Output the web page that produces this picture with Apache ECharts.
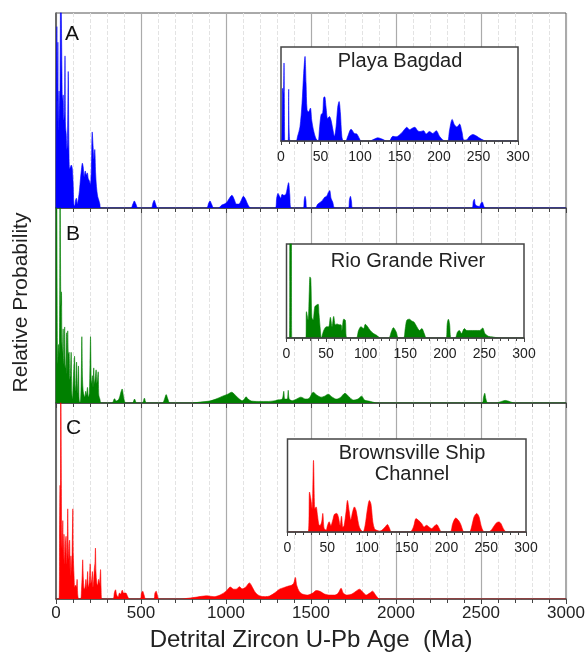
<!DOCTYPE html>
<html><head><meta charset="utf-8">
<script src="https://cdn.jsdelivr.net/npm/echarts/dist/echarts.min.js"></script>
<style>html,body{margin:0;padding:0;background:#fff}#c{width:587px;height:652px}</style>
</head><body><div id="c"></div>
<script>
const FONT = "'Liberation Sans', Arial, Helvetica, sans-serif";
const panelLetters = ['A', 'B', 'C'];
const insetTitles = [['Playa Bagdad'], ['Rio Grande River'], ['Brownsville Ship', 'Channel']];
const seriesColors = ['#0000ff', '#008000', '#ff0000'];
const xAxisName = 'Detrital Zircon U-Pb Age  (Ma)';
const yAxisName = 'Relative Probability';

// Main panels: [age (Ma), relative probability (fraction of panel height)]
const mainA = [[0,0],[2,0.6],[5,0.93],[8,0.55],[11,0.85],[14,0.4],[18,0.6],[22,0.45],[25,0.8],[28,1.3],[32,1.3],[35,0.7],[38,0.55],[42,0.58],[46,0.45],[50,0.5],[53,0.78],[56,0.42],[60,0.38],[64,0.3],[68,0.35],[72,0.7],[76,0.3],[80,0.2],[85,0.21],[90,0.22],[96,0.2],[101,0.12],[105,0.02],[110,0.01],[115,0.04],[120,0.05],[125,0.02],[132,0.05],[138,0.09],[144,0.15],[150,0.2],[155,0.23],[160,0.21],[166,0.16],[172,0.19],[178,0.17],[184,0.18],[190,0.15],[196,0.14],[202,0.12],[208,0.2],[213,0.39],[218,0.32],[223,0.25],[228,0.3],[233,0.18],[238,0.11],[245,0.06],[252,0.04],[258,0.02],[264,0],
[440,0],[452,0.02],[461,0.036],[470,0.02],[482,0],
[560,0],[570,0.025],[578,0.04],[586,0.02],[598,0],
[885,0],[898,0.025],[906,0.036],[915,0.02],[928,0],
[955,0],[975,0.015],[990,0.02],[1005,0.03],[1020,0.05],[1035,0.065],[1048,0.045],[1062,0.02],[1075,0.02],[1090,0.04],[1102,0.06],[1115,0.045],[1130,0.015],[1145,0],
[1290,0],[1298,0.05],[1306,0.075],[1315,0.06],[1322,0.05],[1330,0.07],[1340,0.065],[1352,0.07],[1360,0.1],[1368,0.13],[1375,0.07],[1383,0],
[1455,0],[1460,0.04],[1465,0.06],[1470,0.04],[1476,0],
[1525,0],[1540,0.02],[1555,0.03],[1568,0.04],[1580,0.055],[1592,0.06],[1602,0.08],[1610,0.09],[1618,0.05],[1628,0.03],[1640,0],
[1720,0],[1726,0.04],[1732,0.06],[1738,0.035],[1745,0],
[2445,0],[2455,0.035],[2461,0.045],[2468,0.015],[2490,0.008],[2500,0.025],[2508,0.03],[2516,0.01],[2525,0],
[3000,0]];

const mainB = [[0,0],[3,1.5],[6,1.5],[8,0.3],[11,0.2],[15,0.3],[19,0.25],[22,0.6],[24,1.3],[27,1.3],[29,0.5],[32,0.57],[35,0.3],[38,0.25],[42,0.38],[45,0.2],[48,0.25],[51,0.39],[54,0.18],[58,0.2],[62,0.36],[65,0.15],[69,0.37],[73,0.25],[77,0.26],[81,0.12],[85,0.15],[89,0.26],[93,0.05],[97,0.02],[101,0.1],[105,0.18],[109,0.24],[113,0.06],[117,0.1],[121,0.21],[125,0.05],[129,0.12],[132,0.19],[136,0.02],[140,0],[145,0.02],[149,0.15],[152,0.34],[156,0.12],[160,0.06],[165,0.04],[170,0.03],[175,0.06],[180,0.04],[185,0.08],[190,0.03],[196,0.05],[200,0.2],[203,0.34],[207,0.12],[211,0.1],[214,0.14],[218,0.08],[222,0.18],[226,0.1],[230,0.12],[236,0.17],[240,0.1],[244,0.12],[248,0.16],[252,0.04],[258,0.02],[266,0],
[330,0],[344,0.022],[355,0.01],[370,0.02],[380,0.05],[389,0.072],[398,0.03],[410,0],
[450,0],[462,0.02],[474,0],
[508,0],[520,0.025],[532,0],
[625,0],[640,0.025],[648,0.043],[658,0.02],[670,0],
[800,0],[850,0.005],[903,0.01],[940,0.02],[980,0.035],[1010,0.045],[1033,0.055],[1055,0.04],[1079,0.02],[1095,0.012],[1108,0.02],[1118,0.032],[1130,0.02],[1150,0.01],[1190,0.008],[1250,0.008],[1290,0.012],[1300,0.015],[1330,0.02],[1340,0.06],[1346,0.02],[1360,0.02],[1366,0.065],[1372,0.02],[1390,0.012],[1410,0.018],[1440,0.03],[1470,0.02],[1490,0.025],[1513,0.055],[1535,0.04],[1560,0.03],[1580,0.035],[1601,0.045],[1625,0.03],[1650,0.02],[1675,0.03],[1700,0.05],[1720,0.035],[1750,0.015],[1775,0.02],[1798,0.035],[1815,0.015],[1850,0.008],[1890,0],
[2505,0],[2515,0.03],[2522,0.05],[2529,0.02],[2540,0],
[2590,0],[2620,0.008],[2645,0.013],[2670,0.007],[2695,0],
[3000,0]];

const mainC = [[0,0],[18,0],[21,0.3],[24,0.58],[26,0.25],[28,1.4],[31,1.4],[33,0.35],[36,0.25],[40,0.4],[43,0.2],[47,0.33],[51,0.18],[55,0.28],[59,0.32],[63,0.18],[66,0.25],[69,0.46],[72,0.28],[76,0.2],[80,0.3],[84,0.12],[88,0.22],[92,0.14],[96,0.3],[99,0.46],[102,0.22],[106,0.12],[110,0.06],[115,0.07],[120,0.06],[124,0.1],[128,0.02],[134,0],
[145,0],[150,0.05],[154,0.12],[157,0.2],[161,0.1],[166,0.05],[171,0.06],[176,0.1],[181,0.05],[186,0.14],[190,0.06],[195,0.08],[198,0.12],[201,0.18],[205,0.08],[210,0.1],[214,0.14],[218,0.06],[222,0.1],[226,0.16],[229,0.18],[232,0.26],[235,0.14],[240,0.08],[245,0.07],[250,0.1],[255,0.08],[259,0.11],[262,0.15],[265,0.06],[270,0],
[335,0],[343,0.03],[350,0.047],[357,0.02],[366,0.01],[373,0.03],[380,0.025],[390,0.045],[398,0.03],[411,0.03],[420,0.015],[432,0],
[495,0],[503,0.03],[510,0.04],[518,0.02],[528,0],
[575,0],[582,0.03],[589,0.04],[596,0.02],[606,0],
[730,0],[780,0.004],[830,0.01],[883,0.016],[930,0.012],[965,0.02],[1001,0.04],[1025,0.061],[1045,0.05],[1060,0.05],[1079,0.063],[1095,0.052],[1115,0.06],[1138,0.082],[1155,0.06],[1175,0.03],[1200,0.015],[1230,0.012],[1256,0.015],[1285,0.03],[1315,0.05],[1340,0.058],[1360,0.064],[1373,0.067],[1385,0.07],[1398,0.08],[1408,0.11],[1416,0.07],[1430,0.04],[1450,0.025],[1480,0.02],[1510,0.03],[1531,0.043],[1555,0.038],[1580,0.025],[1610,0.02],[1640,0.02],[1660,0.03],[1677,0.055],[1690,0.03],[1710,0.02],[1740,0.025],[1765,0.04],[1785,0.05],[1805,0.035],[1825,0.02],[1845,0.03],[1862,0.04],[1880,0.02],[1905,0],
[3000,0]];

// Insets (0-300 Ma)
const insetA = [[0,0],[1,0],[2,0.56],[3,0.5],[3.8,0.83],[4.6,0.05],[5,0],[9,0],[9.8,0.55],[10.6,0.55],[11.3,0],[19,0],[21,0.05],[24,0.15],[26.6,0.4],[28.7,0.72],[30.4,0.9],[31.7,0.62],[33,0.33],[35,0.31],[37.2,0.35],[38.9,0.22],[41,0.12],[44,0.03],[47,0],[48.6,0.12],[50.7,0.28],[52.8,0.3],[54,0.46],[55.3,0.47],[57,0.36],[59,0.24],[61.3,0.26],[63.4,0.22],[65.5,0.13],[67.6,0.05],[69.7,0.15],[71.8,0.36],[73.5,0.42],[75.2,0.3],[77,0.05],[79,0],[82,0],[84.5,0.05],[88.7,0.125],[93,0.08],[96,0.075],[99,0.03],[101.5,0],[112,0],[118,0.02],[122.5,0.035],[128,0.02],[134,0],[137,0],[141.5,0.05],[145.8,0.045],[152,0.08],[156,0.12],[159.3,0.146],[162.7,0.12],[166,0.136],[169.4,0.146],[173,0.11],[176,0.1],[180.4,0.11],[183.8,0.075],[188,0.1],[192,0.08],[196.5,0.11],[200.7,0.05],[205,0.01],[208,0],[211,0],[213.4,0.12],[216.7,0.23],[219.7,0.17],[222.7,0.15],[226,0.18],[229,0.1],[231.5,0.01],[234.5,0.01],[238.7,0.05],[243,0.07],[247,0.055],[253.5,0.02],[260,0],[300,0]];

const insetB = [[0,0],[3.8,0],[4.4,1.2],[6,1.2],[6.7,0],[24.5,0],[25.2,0.28],[27.3,0.19],[28.8,0.5],[29.6,0.65],[30.7,0.63],[32,0.22],[33.6,0.19],[35.7,0.33],[37.8,0.35],[40,0.36],[41,0.26],[42.8,0.08],[44,0],[47,0.08],[50.4,0.12],[53.3,0.12],[55.4,0.22],[57.5,0.12],[59.6,0.23],[61.7,0.14],[63.8,0.15],[66.8,0.14],[68.9,0.14],[70,0.08],[72.2,0.2],[74.3,0.19],[76.4,0],[88,0],[91,0.08],[94,0.12],[97.4,0.1],[99.5,0.146],[102.5,0.12],[105.8,0.08],[110,0.047],[114,0.028],[118.4,0],[129,0],[132.3,0.064],[135,0.11],[138.6,0.064],[141.5,0],[147.8,0],[150,0.1],[152,0.19],[155.4,0.2],[158.3,0.18],[161,0.17],[164.6,0.12],[168,0.08],[171,0.1],[174,0.047],[177,0],[201.6,0],[203,0.15],[204.5,0.2],[206,0.15],[208,0],[213,0],[216,0.064],[218.4,0.08],[221,0.047],[224.7,0.1],[227.6,0.08],[232,0.08],[238,0.08],[244,0.08],[247.8,0.107],[250.7,0.047],[255,0.018],[261,0.01],[269.6,0],[300,0]];

const insetC = [[0,0],[26,0],[27.7,0.43],[29.3,0.36],[31,0.25],[32.7,0.77],[34.4,0.25],[36,0.27],[37.7,0.18],[39.4,0.08],[41,0.07],[43,0.11],[44.4,0.2],[46,0.04],[48.6,0.02],[50.3,0.07],[52.4,0.11],[54.5,0.07],[57,0.13],[59,0.19],[62,0.2],[64,0.16],[66.2,0.07],[67.9,0.17],[69.6,0.05],[71.2,0.07],[73.7,0.22],[75.4,0.34],[77.5,0.23],[79.6,0.13],[82,0.22],[84.2,0.27],[86.3,0.23],[88.4,0.13],[90.5,0.05],[93.4,0.01],[95,0],[97.6,0.07],[100.6,0.25],[103,0.34],[105,0.3],[107.3,0.11],[109.4,0.036],[112.3,0.018],[116,0.01],[118.6,0.018],[122.8,0.054],[125.7,0.08],[128.2,0.043],[131,0],[154,0],[158.4,0.054],[161.7,0.144],[164.7,0.126],[168.9,0.09],[171.8,0.054],[175,0.072],[178,0.054],[181.4,0.036],[184.4,0.061],[187.7,0.08],[190.6,0.043],[194,0],[204.5,0],[207.8,0.09],[211.6,0.15],[215,0.126],[218,0.08],[221,0.007],[223,0],[228.8,0],[232,0.072],[234.6,0.162],[238,0.2],[241,0.162],[243.4,0.072],[246.4,0.007],[249,0],[254.7,0.007],[259,0.054],[263,0.1],[266,0.108],[268.6,0.09],[271.5,0.036],[275.7,0],[300,0]];

const mainData = [mainA, mainB, mainC];
const insetData = [insetA, insetB, insetC];

// Layout (pixels)
const mainGrids = [
  {left: 56, top: 13, width: 510, height: 195},
  {left: 56, top: 208, width: 510, height: 195},
  {left: 56, top: 403, width: 510, height: 196}
];
const insetGrids = [
  {left: 281, top: 47, width: 237, height: 94},
  {left: 286.5, top: 244, width: 237.5, height: 94},
  {left: 287.5, top: 439, width: 238.5, height: 93}
];
const letterPos = [[65, 34], [66, 234], [66, 428]];
const titlePos = [[400, 61, 0], [408, 261, 0], [412, 453.5, 21]];
const plainNumber = v => String(v);

const grid = [], xAxis = [], yAxis = [], series = [], graphic = [];
for (let i = 0; i < 3; i++) {
  grid.push(Object.assign({show: true, backgroundColor: 'transparent', borderColor: '#555', borderWidth: 1, containLabel: false, outerBoundsMode: 'none', z: 0}, mainGrids[i]));
  xAxis.push({
    type: 'value', gridIndex: i, min: 0, max: 3000, interval: 500,
    axisLine: {show: true, onZero: false, lineStyle: {color: '#444', width: 1.5}},
    axisTick: {show: true, inside: false, length: 5, lineStyle: {color: '#444', width: 1}},
    minorTick: {show: true, splitNumber: 5, length: 4, lineStyle: {color: '#444', width: 1}},
    splitLine: {show: true, lineStyle: {color: '#ababab', width: 1.2}},
    minorSplitLine: {show: true, lineStyle: {color: '#e3e3e3', width: 1, type: 'dashed'}},
    axisLabel: {show: i === 2, margin: 6, fontSize: 17, color: '#222', fontFamily: FONT, formatter: plainNumber},
    z: 0
  });
  yAxis.push({
    type: 'value', gridIndex: i, min: 0, max: 1,
    axisLine: {show: true, lineStyle: {color: '#555', width: 1.5}},
    axisTick: {show: false}, axisLabel: {show: false}, splitLine: {show: false}, z: 0
  });
  series.push({
    type: 'line', xAxisIndex: i, yAxisIndex: i, data: mainData[i], symbol: 'none',
    smooth: 0.3, clip: true, lineStyle: {width: 0.6, color: seriesColors[i]},
    areaStyle: {color: seriesColors[i], opacity: 1}, z: 2, silent: true
  });
}
for (let i = 0; i < 3; i++) {
  const gi = 3 + i;
  grid.push(Object.assign({show: true, backgroundColor: '#ffffff', borderColor: '#444', borderWidth: 1.5, containLabel: false, outerBoundsMode: 'none', z: 5}, insetGrids[i]));
  xAxis.push({
    type: 'value', gridIndex: gi, min: 0, max: 300, interval: 50,
    axisLine: {show: true, onZero: false, lineStyle: {color: '#444', width: 1.5}},
    axisTick: {show: true, inside: false, length: 4, lineStyle: {color: '#444', width: 1}},
    minorTick: {show: true, splitNumber: 5, length: 3, lineStyle: {color: '#444', width: 1}},
    splitLine: {show: false},
    axisLabel: {show: true, margin: 9, fontSize: 14, color: '#222', fontFamily: FONT, formatter: plainNumber},
    z: 8
  });
  yAxis.push({
    type: 'value', gridIndex: gi, min: 0, max: 1, show: false
  });
  series.push({
    type: 'line', xAxisIndex: gi, yAxisIndex: gi, data: insetData[i], symbol: 'none',
    smooth: 0.3, clip: true, lineStyle: {width: 0.6, color: seriesColors[i]},
    areaStyle: {color: seriesColors[i], opacity: 1}, z: 7, silent: true
  });
  graphic.push({type: 'text', z: 100, x: letterPos[i][0], y: letterPos[i][1],
    style: {text: panelLetters[i], fontSize: 21, fontFamily: FONT, fill: '#111', textAlign: 'left', textVerticalAlign: 'middle', verticalAlign: 'middle'}});
  insetTitles[i].forEach((t, k) => {
    graphic.push({type: 'text', z: 100, x: titlePos[i][0], y: titlePos[i][1] + k * titlePos[i][2],
      style: {text: t, fontSize: 20, fontFamily: FONT, fill: '#222', textAlign: 'center', textVerticalAlign: 'middle', verticalAlign: 'middle'}});
  });
}
graphic.push({type: 'text', z: 100, x: 311, y: 640,
  style: {text: xAxisName, fontSize: 24, fontFamily: FONT, fill: '#222', textAlign: 'center', textVerticalAlign: 'middle', verticalAlign: 'middle'}});
graphic.push({type: 'text', z: 100, x: 21, y: 302.5, rotation: Math.PI / 2,
  style: {text: yAxisName, fontSize: 21, fontFamily: FONT, fill: '#222', textAlign: 'center', textVerticalAlign: 'middle', verticalAlign: 'middle'}});

const chart = echarts.init(document.getElementById('c'), null, {renderer: 'canvas'});
chart.setOption({animation: false, backgroundColor: '#ffffff', grid, xAxis, yAxis, series, graphic});
</script></body></html>
